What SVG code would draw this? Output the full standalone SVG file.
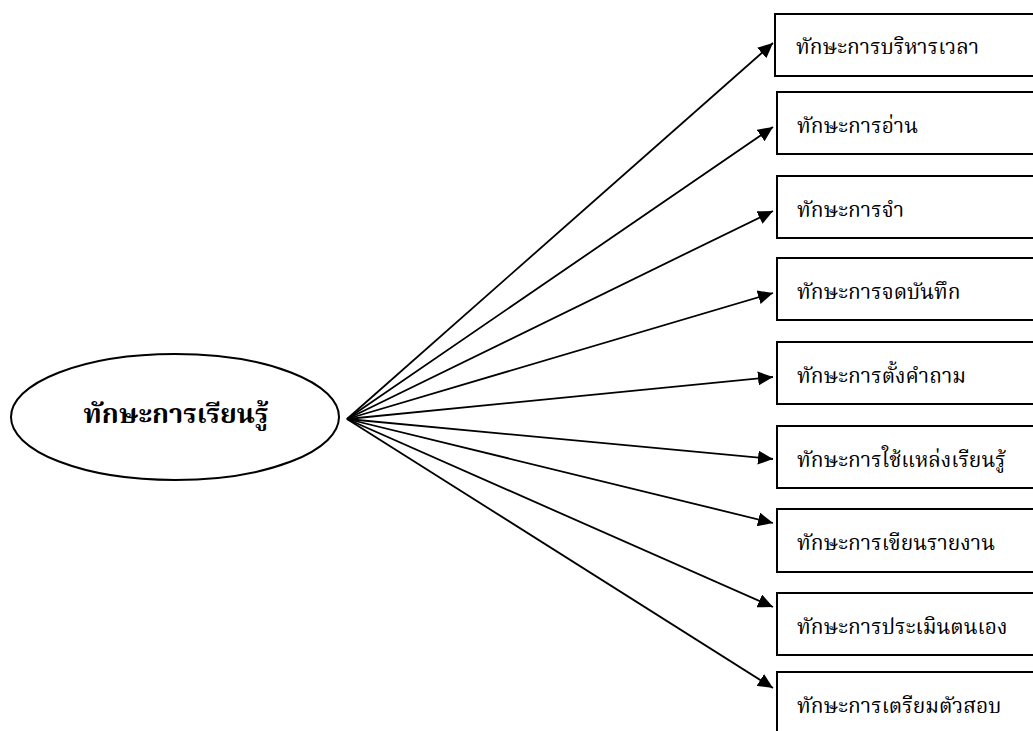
<svg xmlns="http://www.w3.org/2000/svg" width="1033" height="731" viewBox="0 0 1033 731">
<style>
.box{fill:#fff;stroke:#000;stroke-width:2}
.lbl{font-family:"Liberation Serif","Noto Serif Thai","Noto Sans Thai",serif;font-size:21px;fill:#000}
.main{font-family:"Liberation Serif","Noto Serif Thai","Noto Sans Thai",serif;font-size:27px;font-weight:bold;fill:#000}
.con{stroke:#000;stroke-width:1.8;fill:none;marker-end:url(#ah)}
</style>
<defs>
<marker id="ah" markerUnits="userSpaceOnUse" markerWidth="16" markerHeight="14" refX="15" refY="7" orient="auto">
<path d="M0,0 L15,7 L0,14 Z" fill="#000"/>
</marker>
</defs>
<rect width="1033" height="731" fill="#fff"/>
<g id="center">
<ellipse cx="175" cy="417" rx="164" ry="63" fill="#fff" stroke="#000" stroke-width="2"/>
<text class="main" x="176" y="423" text-anchor="middle">ทักษะการเรียนรู้</text>
</g>
<g id="n1"><rect class="box" x="775" y="14" width="300" height="62"/><text class="lbl" x="796" y="54">ทักษะการบริหารเวลา</text></g>
<g id="n2"><rect class="box" x="777" y="92" width="300" height="62"/><text class="lbl" x="797" y="133">ทักษะการอ่าน</text></g>
<g id="n3"><rect class="box" x="777" y="176" width="300" height="62"/><text class="lbl" x="797" y="217">ทักษะการจำ</text></g>
<g id="n4"><rect class="box" x="777" y="258" width="300" height="62"/><text class="lbl" x="797" y="299">ทักษะการจดบันทึก</text></g>
<g id="n5"><rect class="box" x="777" y="342" width="300" height="62"/><text class="lbl" x="797" y="383">ทักษะการตั้งคำถาม</text></g>
<g id="n6"><rect class="box" x="777" y="426" width="300" height="62"/><text class="lbl" x="797" y="467">ทักษะการใช้แหล่งเรียนรู้</text></g>
<g id="n7"><rect class="box" x="777" y="509" width="300" height="63"/><text class="lbl" x="797" y="550">ทักษะการเขียนรายงาน</text></g>
<g id="n8"><rect class="box" x="777" y="593" width="300" height="62"/><text class="lbl" x="797" y="634">ทักษะการประเมินตนเอง</text></g>
<g id="n9"><rect class="box" x="777" y="672" width="300" height="70"/><text class="lbl" x="797" y="713">ทักษะการเตรียมตัวสอบ</text></g>
<g id="connectors">
<line class="con" x1="347" y1="419" x2="773" y2="43"/>
<line class="con" x1="347" y1="419" x2="773" y2="127"/>
<line class="con" x1="347" y1="419" x2="773" y2="211"/>
<line class="con" x1="347" y1="419" x2="773" y2="293"/>
<line class="con" x1="347" y1="419" x2="773" y2="377"/>
<line class="con" x1="347" y1="419" x2="773" y2="459"/>
<line class="con" x1="347" y1="419" x2="773" y2="523"/>
<line class="con" x1="347" y1="419" x2="773" y2="607"/>
<line class="con" x1="347" y1="419" x2="773" y2="688"/>
</g>
</svg>
